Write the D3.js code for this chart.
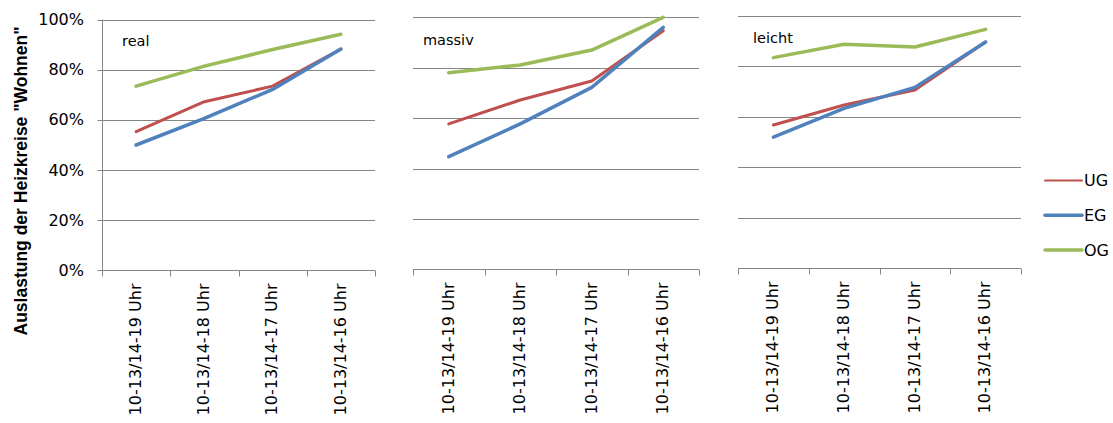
<!DOCTYPE html>
<html>
<head>
<meta charset="utf-8">
<script src="https://cdn.jsdelivr.net/npm/d3@7"></script>
<style>
  html, body { margin: 0; padding: 0; background: #fff; }
  svg { display: block; }
</style>
</head>
<body>
<svg id="chart" width="1113" height="423"></svg>
<script>
// ---- data ----
const categories = ["10-13/14-19 Uhr", "10-13/14-18 Uhr", "10-13/14-17 Uhr", "10-13/14-16 Uhr"];
const panelNames = ["real", "massiv", "leicht"];
const seriesNames = ["UG", "EG", "OG"];
const ugValues = [[55.2, 67.2, 73.4, 88.2], [57.7, 67.2, 74.7, 94.7], [56.8, 64.7, 70.7, 89.7]];
const egValues = [[49.9, 60.5, 72.1, 88.2], [44.7, 57.7, 72.2, 96.0], [52.0, 63.4, 71.7, 89.7]];
const ogValues = [[73.4, 81.4, 88.0, 94.1], [78.0, 81.1, 87.0, 100.0], [83.5, 88.8, 87.7, 94.7]];
const yTicks = [0, 20, 40, 60, 80, 100];
const yTickLabels = ["0%", "20%", "40%", "60%", "80%", "100%"];
const yTitle = "Auslastung der Heizkreise \"Wohnen\"";

// ---- layout / style ----
const colors = { UG: "#C0504D", EG: "#4F81BD", OG: "#9BBB59" };
const seriesValues = { UG: ugValues, EG: egValues, OG: ogValues };
const gridColor = "#868686";
const layout = [
  { x0: 102, x1: 375, top: 19.5, bottom: 270, labelDx: 20, labelY: 45.5 },
  { x0: 413, x1: 699, top: 17.3, bottom: 269.3, labelDx: 10, labelY: 45 },
  { x0: 738, x1: 1021, top: 16, bottom: 268.3, labelDx: 15, labelY: 43 }
];

const svg = d3.select("#chart");
const crisp = v => Math.round(v) + 0.5;

panelNames.forEach((name, p) => {
  const L = layout[p];
  const x = d3.scaleBand().domain(categories).range([L.x0, L.x1]).padding(0);
  const y = d3.scaleLinear().domain([0, 100]).range([L.bottom, L.top]);
  const g = svg.append("g");

  // gridlines
  g.selectAll("line.grid").data(yTicks.filter(t => t > 0)).enter().append("line")
    .attr("x1", L.x0).attr("x2", L.x1)
    .attr("y1", d => crisp(y(d))).attr("y2", d => crisp(y(d)))
    .attr("stroke", gridColor).attr("stroke-width", 1);

  // x axis line
  g.append("line")
    .attr("x1", L.x0).attr("x2", L.x1)
    .attr("y1", crisp(y(0))).attr("y2", crisp(y(0)))
    .attr("stroke", gridColor).attr("stroke-width", 1);
  // x ticks at category boundaries
  const bounds = categories.map(c => x(c)).concat([L.x1]);
  g.selectAll("line.xt").data(bounds).enter().append("line")
    .attr("x1", d => crisp(d)).attr("x2", d => crisp(d))
    .attr("y1", crisp(y(0))).attr("y2", crisp(y(0)) + 6)
    .attr("stroke", gridColor).attr("stroke-width", 1);

  // x labels (rotated)
  g.selectAll("text.xl").data(categories).enter().append("text")
    .attr("transform", d => `translate(${x(d) + x.bandwidth() / 2 - 1},${crisp(y(0)) + 13}) rotate(-90)`)
    .attr("text-anchor", "end")
    .attr("dy", "0.36em")
    .attr("font-family", "DejaVu Sans, sans-serif")
    .attr("font-size", "16px")
    .attr("fill", "#000")
    .text(d => d);

  // y axis on first panel
  if (p === 0) {
    g.append("line")
      .attr("x1", crisp(L.x0)).attr("x2", crisp(L.x0))
      .attr("y1", y(100)).attr("y2", crisp(y(0)))
      .attr("stroke", gridColor).attr("stroke-width", 1);
    g.selectAll("line.yt").data(yTicks).enter().append("line")
      .attr("x1", crisp(L.x0) - 5).attr("x2", crisp(L.x0))
      .attr("y1", d => crisp(y(d))).attr("y2", d => crisp(y(d)))
      .attr("stroke", gridColor).attr("stroke-width", 1);
    g.selectAll("text.yl").data(yTicks).enter().append("text")
      .attr("x", 84).attr("y", d => y(d))
      .attr("dy", "0.36em")
      .attr("text-anchor", "end")
      .attr("font-family", "DejaVu Sans, sans-serif")
      .attr("font-size", "16px")
      .attr("fill", "#000")
      .text((d, i) => yTickLabels[i]);
  }

  // series lines
  const line = d3.line()
    .x((d, i) => x(categories[i]) + x.bandwidth() / 2)
    .y(d => y(d));
  seriesNames.forEach(s => {
    g.append("path")
      .datum(seriesValues[s][p])
      .attr("d", line)
      .attr("fill", "none")
      .attr("stroke", colors[s])
      .attr("stroke-width", s === "UG" ? 3 : 3.5)
      .attr("stroke-linejoin", "round")
      .attr("stroke-linecap", "round");
  });

  // panel label
  g.append("text")
    .attr("x", L.x0 + L.labelDx).attr("y", L.labelY)
    .attr("font-family", "DejaVu Sans, sans-serif")
    .attr("font-size", "14.5px")
    .attr("fill", "#000")
    .text(name);
});

// y axis title
svg.append("text")
  .attr("transform", "translate(27,181) rotate(-90)")
  .attr("text-anchor", "middle")
  .attr("font-family", "Liberation Sans, Arial, sans-serif")
  .attr("font-weight", "bold")
  .attr("font-size", "17.5px")
  .attr("fill", "#000")
  .text(yTitle);

// legend
const legend = svg.append("g");
const legY = d3.scalePoint().domain(seriesNames).range([180.5, 250]);
seriesNames.forEach(s => {
  legend.append("line")
    .attr("x1", 1045).attr("x2", 1082)
    .attr("y1", legY(s)).attr("y2", legY(s))
    .attr("stroke", colors[s])
    .attr("stroke-width", s === "UG" ? 2 : 3.5)
    .attr("stroke-linecap", "round");
  legend.append("text")
    .attr("x", 1084).attr("y", legY(s))
    .attr("dy", "0.36em")
    .attr("font-family", "DejaVu Sans, sans-serif")
    .attr("font-size", "16px")
    .attr("fill", "#000")
    .text(s);
});
</script>
</body>
</html>
